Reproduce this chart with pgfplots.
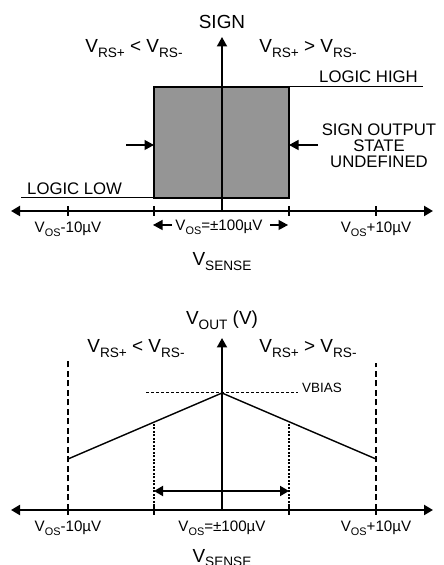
\documentclass[border=0pt]{standalone}
\usepackage{fontspec}
\setmainfont{Liberation Sans}
\usepackage{graphicx}
\usepackage{pgfplots}
\pgfplotsset{compat=1.18}
\usetikzlibrary{arrows.meta}
\definecolor{boxgray}{HTML}{959595}

\newcommand\sub[1]{\raisebox{-0.22em}{\scalebox{0.72}{#1}}}
\newcommand\fbig{\fontsize{19}{21}\selectfont}
\newcommand\fmed{\fontsize{16.8}{18}\selectfont}
\newcommand\ftick{\fontsize{15.2}{17}\selectfont}
\newcommand\fsmall{\fontsize{13.5}{15}\selectfont}

\tikzset{
  tip/.style={-{Triangle[length=9.5bp,width=10bp]}},
  tips/.style={{Triangle[length=9bp,width=10bp]}-{Triangle[length=9bp,width=10bp]}},
  lab/.style={inner sep=0pt, anchor=base}
}
\pgfplotsset{
  sketch/.style={width=444bp, scale only axis, axis lines=none, clip=false,
    xmin=-222, xmax=222, no marks,
    every axis plot/.append style={black, line width=1.2bp}}
}

\begin{document}
\begin{tikzpicture}
\useasboundingbox (0,0) rectangle (444bp,565bp);

% ---- top: SIGN output ----
\begin{axis}[sketch, height=280bp, ymin=-69, ymax=211,
    at={(0bp,285bp)}, anchor=south west]
\addplot[fill=boxgray, draw=black, line width=1.3bp]
  coordinates {(-68,13) (67,13) (67,124) (-68,124)} -- cycle;
\addplot[line width=1bp] coordinates {(67,124) (201,124)};
\addplot[line width=1bp] coordinates {(-201,13) (-68,13)};
\addplot[tips, line width=2bp] coordinates {(-211,0) (211,0)};
\addplot[tip, line width=2bp] coordinates {(0,0) (0,174)};
\addplot[line width=2bp, unbounded coords=jump] coordinates {
  (-154,-5) (-154,5) (-154,nan)
  (-68,-5) (-68,5) (-68,nan)
  (67,-5) (67,5) (67,nan)
  (154,-5) (154,5)};
\addplot[tip] coordinates {(-96,66) (-68,66)};
\addplot[tip] coordinates {(96,66) (67,66)};
\addplot[tip] coordinates {(-50,-14) (-69,-14)};
\addplot[tip] coordinates {(48,-14) (66,-14)};

\node[lab, font=\fbig] at (axis cs:0,182) {SIGN};
\node[lab, font=\fbig] at (axis cs:-88,158) {V\sub{RS+} < V\sub{RS-}};
\node[lab, font=\fbig] at (axis cs:86,158) {V\sub{RS+} > V\sub{RS-}};
\node[lab, font=\fmed, anchor=base east] at (axis cs:196,128) {LOGIC HIGH};
\node[lab, font=\fmed] at (axis cs:157,75) {SIGN OUTPUT};
\node[lab, font=\fmed] at (axis cs:157,59) {STATE};
\node[lab, font=\fmed] at (axis cs:157,43) {UNDEFINED};
\node[lab, font=\fmed, anchor=base west] at (axis cs:-195,16) {LOGIC LOW};
\node[lab, font=\ftick] at (axis cs:-154,-22) {V\sub{OS}-10µV};
\node[lab, font=\ftick] at (axis cs:154,-22) {V\sub{OS}+10µV};
\node[lab, font=\ftick] at (axis cs:-3,-20) {V\sub{OS}=±100µV};
\node[lab, font=\fbig] at (axis cs:0,-55) {V\sub{SENSE}};
\end{axis}

% ---- bottom: VOUT ----
\begin{axis}[sketch, height=285bp, ymin=-55, ymax=230,
    at={(0bp,0bp)}, anchor=south west]
\addplot[line width=1.3bp, dash pattern=on 6bp off 3.5bp] coordinates {(-154,0) (-154,150)};
\addplot[line width=1.3bp, dash pattern=on 6bp off 3.5bp] coordinates {(154,0) (154,147)};
\addplot[line width=1.1bp, dash pattern=on 2bp off 1.5bp] coordinates {(-68,0) (-68,87)};
\addplot[line width=1.1bp, dash pattern=on 2bp off 1.5bp] coordinates {(67,0) (67,87)};
\addplot[line width=1bp, dash pattern=on 3bp off 2bp] coordinates {(-76,117) (76,117)};
\addplot[line width=1.4bp] coordinates {(-154,51) (0,117) (154,51)};
\addplot[tips, line width=1.8bp] coordinates {(-68,19) (67,19)};
\addplot[tips, line width=2bp] coordinates {(-211,0) (211,0)};
\addplot[tip, line width=2bp] coordinates {(0,0) (0,172)};
\addplot[line width=2bp, unbounded coords=jump] coordinates {
  (-154,-5) (-154,5) (-154,nan)
  (-68,-5) (-68,5) (-68,nan)
  (67,-5) (67,5) (67,nan)
  (154,-5) (154,5)};

\node[lab, font=\fbig] at (axis cs:0,185) {V\sub{OUT} (V)};
\node[lab, font=\fbig] at (axis cs:-86,157) {V\sub{RS+} < V\sub{RS-}};
\node[lab, font=\fbig] at (axis cs:86,157) {V\sub{RS+} > V\sub{RS-}};
\node[lab, font=\fsmall, anchor=base west] at (axis cs:80,117) {VBIAS};
\node[lab, font=\ftick] at (axis cs:-154,-22) {V\sub{OS}-10µV};
\node[lab, font=\ftick] at (axis cs:0,-22) {V\sub{OS}=±100µV};
\node[lab, font=\ftick] at (axis cs:154,-22) {V\sub{OS}+10µV};
\node[lab, font=\fbig] at (axis cs:0,-52) {V\sub{SENSE}};
\end{axis}
\end{tikzpicture}
\end{document}
